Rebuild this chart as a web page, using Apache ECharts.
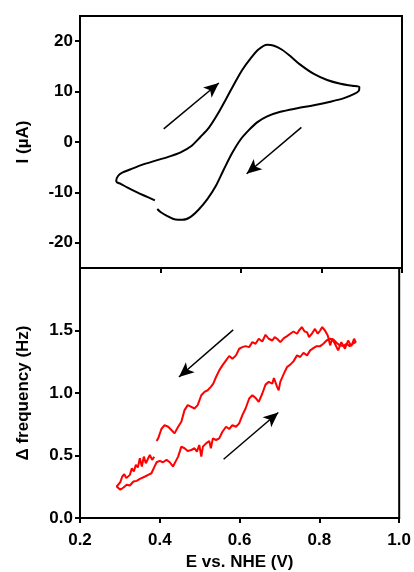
<!DOCTYPE html>
<html>
<head>
<meta charset="utf-8">
<script src="https://cdn.jsdelivr.net/npm/echarts@6/dist/echarts.min.js"></script>
<style>
html,body{margin:0;padding:0;background:#fff;}
#c{width:414px;height:572px;}
</style>
</head>
<body>
<div id="c"></div>
<script>
// ---- Data ----
const xTicks = [0.2, 0.4, 0.6, 0.8, 1.0];
const cvTicks = [-20, -10, 0, 10, 20];
const dfTicks = [0, 0.5, 1.0, 1.5];

// Cyclic voltammogram (E in V vs NHE, I in µA), in scan order
const cvE = [0.386,0.367,0.342,0.317,0.301,0.292,0.290,0.294,0.305,0.326,0.359,0.392,0.425,0.450,0.475,0.499,0.520,0.541,0.562,0.582,0.603,0.624,0.644,0.665,0.682,0.702,0.723,0.748,0.781,0.814,0.847,0.876,0.894,0.893,0.880,0.856,0.822,0.781,0.740,0.698,0.665,0.640,0.620,0.599,0.578,0.557,0.537,0.516,0.495,0.475,0.454,0.437,0.417,0.400,0.392];
const cvI = [-11.6,-10.9,-10.0,-9.0,-8.3,-8.0,-7.7,-6.8,-6.1,-5.4,-4.4,-3.6,-2.8,-2.05,-0.9,1.0,2.8,5.4,8.4,11.35,14.3,16.6,18.4,19.3,19.1,18.3,17.0,15.3,13.5,12.3,11.55,11.15,10.9,10.2,9.5,8.7,8.0,7.3,6.7,6.0,5.1,3.9,2.4,0.5,-2.2,-5.5,-8.8,-11.4,-13.4,-14.85,-15.45,-15.4,-14.7,-13.9,-13.3];

// Frequency change (Hz) along the same scan
const dfE = [0.386,0.381,0.375,0.371,0.365,0.360,0.355,0.350,0.345,0.340,0.335,0.330,0.325,0.321,0.316,0.311,0.306,0.301,0.297,0.292,
  0.294,0.301,0.309,0.317,0.325,0.334,0.342,0.350,0.363,0.371,0.379,0.388,0.392,0.400,0.408,0.417,0.425,0.433,0.437,0.446,0.454,0.462,0.470,0.479,0.487,0.493,0.499,0.504,0.508,0.516,0.524,0.528,0.533,0.541,0.549,0.557,0.566,0.574,0.582,0.591,0.599,0.607,0.615,0.624,0.632,0.640,0.648,0.657,0.665,0.673,0.682,0.686,0.694,0.698,0.702,0.711,0.719,0.727,0.735,0.744,0.752,0.760,0.769,0.777,0.785,0.793,0.802,0.810,0.818,0.827,0.835,0.843,0.851,0.860,0.868,0.876,0.884,0.891,
  0.887,0.880,0.872,0.864,0.855,0.847,0.839,0.832,0.827,0.821,0.814,0.807,0.802,0.796,0.789,0.781,0.774,0.769,0.763,0.756,0.749,0.744,0.735,0.727,0.719,0.711,0.702,0.694,0.688,0.682,0.673,0.665,0.657,0.648,0.640,0.632,0.624,0.615,0.607,0.599,0.591,0.582,0.574,0.566,0.557,0.549,0.541,0.534,0.528,0.520,0.512,0.504,0.495,0.487,0.479,0.470,0.462,0.454,0.446,0.437,0.429,0.421,0.412,0.404,0.396,0.392];
const dfF = [0.49,0.465,0.504,0.478,0.438,0.491,0.412,0.478,0.404,0.425,0.372,0.398,0.345,0.358,0.319,0.35,0.332,0.287,0.271,0.252,
  0.239,0.226,0.244,0.266,0.26,0.292,0.297,0.313,0.332,0.345,0.358,0.419,0.446,0.457,0.446,0.465,0.446,0.412,0.404,0.491,0.571,0.558,0.536,0.544,0.558,0.531,0.584,0.491,0.571,0.597,0.616,0.558,0.637,0.624,0.637,0.69,0.73,0.712,0.743,0.73,0.757,0.823,0.876,0.956,0.982,0.961,0.929,0.996,1.067,1.089,1.075,1.12,1.049,1.022,1.089,1.155,1.208,1.227,1.253,1.301,1.288,1.322,1.301,1.341,1.359,1.375,1.375,1.394,1.42,1.434,1.428,1.402,1.381,1.375,1.394,1.375,1.394,1.407,
  1.434,1.375,1.42,1.354,1.407,1.341,1.394,1.434,1.381,1.46,1.5,1.527,1.5,1.474,1.513,1.474,1.447,1.487,1.492,1.527,1.5,1.474,1.492,1.474,1.455,1.439,1.407,1.434,1.447,1.42,1.434,1.466,1.412,1.434,1.394,1.407,1.367,1.375,1.367,1.354,1.301,1.274,1.296,1.261,1.221,1.181,1.128,1.075,1.049,1.022,1.009,0.982,0.903,0.876,0.889,0.903,0.863,0.77,0.73,0.677,0.704,0.73,0.743,0.712,0.637,0.616];

// Scan-direction arrows [x1, y1, x2, y2]
const cvArrows = [[0.408, 2.6, 0.545, 11.7], [0.750, 2.9, 0.614, -6.3]];
const dfArrows = [[0.584, 1.505, 0.448, 1.128], [0.560, 0.470, 0.697, 0.844]];

// ---- Chart ----
const FONT = 'Liberation Sans, Arial, sans-serif';
const lbl = {color:'#000', fontFamily:FONT, fontWeight:'bold', fontSize:17};
const pairs = (a, b) => a.map((v, i) => [v, b[i]]);
const arrowLines = arr => arr.map(a => [{coord:[a[0], a[1]]}, {coord:[a[2], a[3]]}]);
const axLine = {show:true, onZero:false, lineStyle:{color:'#000', width:2}};
const axTick = {show:true, inside:false, length:5, lineStyle:{color:'#000', width:2}};

const chart = echarts.init(document.getElementById('c'), null, {renderer:'canvas'});
chart.setOption({
  animation:false,
  backgroundColor:'#fff',
  grid:[
    {left:80, right:12, top:16, height:252, show:true, borderColor:'#000', borderWidth:2, backgroundColor:'transparent'},
    {left:80, right:12, top:268, height:252, show:true, borderColor:'#000', borderWidth:2, backgroundColor:'transparent'}
  ],
  xAxis:[
    {gridIndex:0, type:'value', min:0.2, max:1.0, interval:0.2,
     axisLine:axLine, axisTick:axTick, axisLabel:{show:false}, splitLine:{show:false}},
    {gridIndex:1, type:'value', min:0.2, max:1.0, interval:0.2,
     name:'E vs. NHE (V)', nameLocation:'middle', nameGap:36, nameTextStyle:lbl,
     axisLine:axLine, axisTick:axTick,
     axisLabel:Object.assign({margin:14, customValues:xTicks, formatter:v => v.toFixed(1)}, lbl),
     splitLine:{show:false}}
  ],
  yAxis:[
    {gridIndex:0, type:'value', min:-25, max:25, interval:5,
     name:'I (µA)', nameLocation:'middle', nameGap:48, nameTextStyle:lbl,
     axisLine:axLine,
     axisTick:Object.assign({customValues:cvTicks}, axTick),
     axisLabel:Object.assign({margin:7, customValues:cvTicks, formatter:v => String(v)}, lbl),
     splitLine:{show:false}},
    {gridIndex:1, type:'value', min:0, max:2, interval:0.5,
     name:'Δ frequency (Hz)', nameLocation:'middle', nameGap:48, nameTextStyle:lbl,
     axisLine:axLine,
     axisTick:Object.assign({customValues:dfTicks}, axTick),
     axisLabel:Object.assign({margin:7, customValues:dfTicks, formatter:v => v.toFixed(1)}, lbl),
     splitLine:{show:false}}
  ],
  series:[
    {type:'line', xAxisIndex:0, yAxisIndex:0, data:pairs(cvE, cvI), showSymbol:false, smooth:0.3,
     lineStyle:{color:'#000', width:2}, silent:true,
     markLine:{silent:true, symbol:['none','arrow'], symbolSize:[10,15], label:{show:false},
       lineStyle:{color:'#000', width:1.5, type:'solid'}, data:arrowLines(cvArrows)}},
    {type:'line', xAxisIndex:1, yAxisIndex:1, data:pairs(dfE, dfF), showSymbol:false,
     lineStyle:{color:'#ff0000', width:2}, silent:true,
     markLine:{silent:true, symbol:['none','arrow'], symbolSize:[10,15], label:{show:false},
       lineStyle:{color:'#000', width:1.5, type:'solid'}, data:arrowLines(dfArrows)}}
  ]
});
</script>
</body>
</html>
